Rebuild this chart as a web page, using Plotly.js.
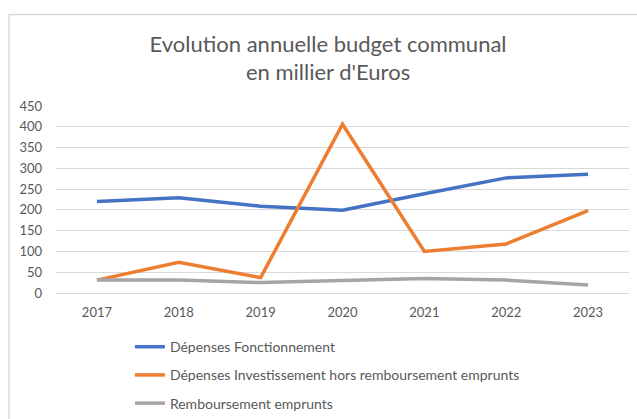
<!DOCTYPE html>
<html>
<head>
<meta charset="utf-8">
<script src="https://cdn.plot.ly/plotly-3.0.1.min.js"></script>
<style>html,body{margin:0;padding:0;background:#fff;}#chart{width:637px;height:419px;}</style>
</head>
<body>
<div id="chart"></div>
<script>
var years = ['2017','2018','2019','2020','2021','2022','2023'];
var fonctionnement = [220, 229, 209, 199, 239, 277, 286];
var investissement = [31, 74, 37, 406, 100, 118, 198];
var remboursement = [31, 31, 25, 31, 35, 31, 19];
var names = ['Dépenses Fonctionnement', 'Dépenses Investissement hors remboursement emprunts', 'Remboursement emprunts'];
var colors = ['#4472C4', '#ED7D31', '#A5A5A5'];
var series = [fonctionnement, investissement, remboursement];
var font = 'Lato, "Open Sans", sans-serif';

var data = series.map(function(s, i){
  return {
    x: years, y: s, name: names[i], type: 'scatter', mode: 'lines',
    line: {color: colors[i], width: 3.5}, legendgroup: 'g'+i
  };
});

var layout = {
  width: 637, height: 419,
  margin: {l: 56, r: 8, t: 106, b: 126, autoexpand: false},
  paper_bgcolor: '#fff', plot_bgcolor: '#fff',
  font: {family: font, color: '#595959', size: 12},
  title: {
    text: "Evolution annuelle budget communal<br>en millier d'Euros",
    font: {family: font, size: 22, color: '#595959'},
    x: 0.515, xanchor: 'center', xref: 'container', yref: 'container', y: 0.877, yanchor: 'top'
  },
  xaxis: {
    type: 'category', range: [-0.5, 6.5], showgrid: false, zeroline: false,
    showline: false, ticks: '', ticklabelstandoff: 10,
    tickfont: {size: 13, color: '#595959'}, fixedrange: true
  },
  yaxis: {
    range: [0, 450], dtick: 50, tick0: 0, showgrid: true, gridcolor: '#d9d9d9', gridwidth: 1,
    zeroline: true, zerolinecolor: '#d9d9d9', zerolinewidth: 1, showline: false, ticks: '',
    ticklabelstandoff: 13,
    tickfont: {size: 13, color: '#595959'}, fixedrange: true
  },
  showlegend: true,
  legend: {
    orientation: 'v', x: 0.129, xanchor: 'left', y: -0.2038, yanchor: 'top',
    font: {size: 14, color: '#595959'}, tracegroupgap: 7, bgcolor: 'rgba(0,0,0,0)'
  },
  shapes: [{
    type: 'rect', xref: 'paper', yref: 'paper',
    x0: -0.082, x1: 1.3, y0: -1, y1: 1.489,
    line: {color: '#d9d9d9', width: 1.5}, fillcolor: 'rgba(0,0,0,0)', layer: 'below'
  }]
};

Plotly.newPlot('chart', data, layout, {displayModeBar: false, staticPlot: true});
</script>
</body>
</html>
